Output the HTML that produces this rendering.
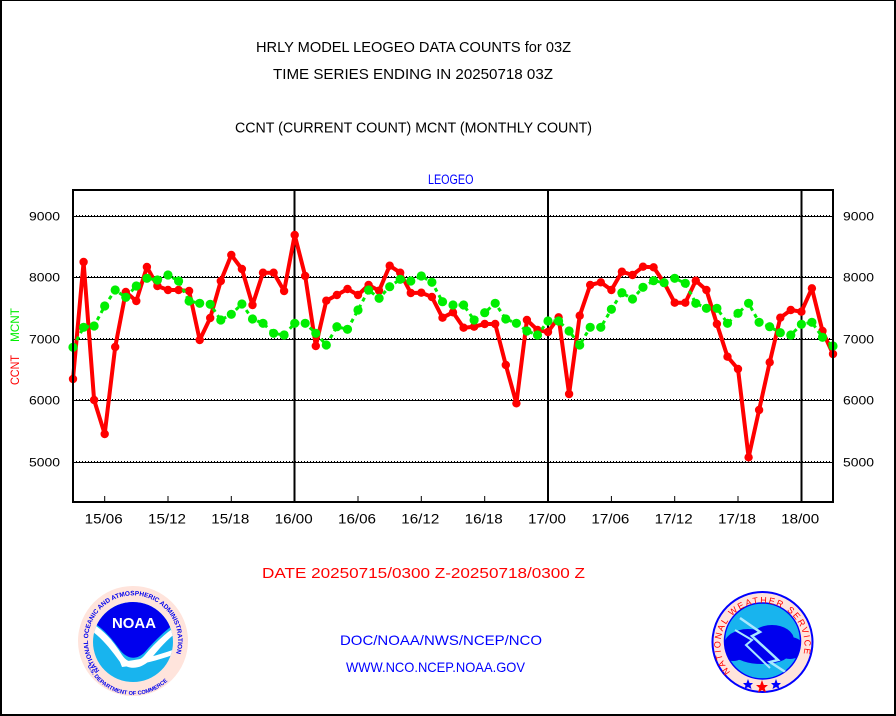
<!DOCTYPE html>
<html><head><meta charset="utf-8"><style>
html,body{margin:0;padding:0;background:#fff;}
svg{display:block;font-family:"Liberation Sans",sans-serif;}
</style></head><body>
<svg width="896" height="716" viewBox="0 0 896 716" xmlns="http://www.w3.org/2000/svg">
<defs>
<marker id="mr" markerUnits="userSpaceOnUse" markerWidth="10" markerHeight="10" refX="5" refY="5"><circle cx="5" cy="5" r="4.2" fill="#ff0000"/></marker>
<marker id="mg" markerUnits="userSpaceOnUse" markerWidth="11" markerHeight="11" refX="5.5" refY="5.5"><circle cx="5.5" cy="5.5" r="4.6" fill="#00ee00"/></marker>
<clipPath id="noaaIn"><circle cx="133" cy="642" r="40"/></clipPath>
<clipPath id="nwsIn"><circle cx="762.5" cy="641" r="38"/></clipPath>
<path id="noaaTop" d="M 101 672 A 45 45 0 1 1 165 672"/>
<path id="noaaBot" d="M 86 662 A 50 50 0 0 0 180 662"/>
<path id="nwsTop" d="M 731 673 A 42 42 0 1 1 794 673"/>
</defs>
<rect x="0" y="0" width="896" height="716" fill="#fff"/>
<rect x="0" y="0" width="2" height="716" fill="#000"/>
<rect x="0" y="0" width="896" height="1" fill="#000"/>
<rect x="894" y="0" width="2" height="716" fill="#000"/>
<rect x="0" y="714" width="896" height="2" fill="#000"/>

<text x="256" y="52" font-size="15" textLength="315" lengthAdjust="spacingAndGlyphs" fill="#000">HRLY MODEL LEOGEO DATA COUNTS for 03Z</text>
<text x="273" y="79" font-size="15" textLength="280" lengthAdjust="spacingAndGlyphs" fill="#000">TIME SERIES ENDING IN 20250718 03Z</text>
<text x="235" y="132.5" font-size="15" textLength="357" lengthAdjust="spacingAndGlyphs" fill="#000">CCNT (CURRENT COUNT) MCNT (MONTHLY COUNT)</text>
<text x="428" y="184" font-size="13.5" textLength="45.5" lengthAdjust="spacingAndGlyphs" fill="#0000ff">LEOGEO</text>

<g stroke="#000" stroke-width="1">
<line x1="73" x2="833" y1="216.5" y2="216.5"/>
<line x1="73" x2="833" y1="277.5" y2="277.5"/>
<line x1="73" x2="833" y1="339.5" y2="339.5"/>
<line x1="73" x2="833" y1="400.5" y2="400.5"/>
<line x1="73" x2="833" y1="462.5" y2="462.5"/>
</g>
<g stroke="#000" stroke-width="1" stroke-dasharray="1 2">
<line x1="73" x2="833" y1="215.5" y2="215.5"/>
<line x1="73" x2="833" y1="276.5" y2="276.5"/>
<line x1="73" x2="833" y1="338.5" y2="338.5"/>
<line x1="73" x2="833" y1="399.5" y2="399.5"/>
<line x1="73" x2="833" y1="461.5" y2="461.5"/>
</g>

<g stroke="#000" stroke-width="2">
<line x1="294.5" x2="294.5" y1="190" y2="502"/>
<line x1="548" x2="548" y1="190" y2="502"/>
<line x1="801.5" x2="801.5" y1="190" y2="502"/>
</g>
<g stroke="#000" stroke-width="1">
<line x1="104.7" x2="104.7" y1="496" y2="502"/>
<line x1="168" x2="168" y1="496" y2="502"/>
<line x1="231.3" x2="231.3" y1="496" y2="502"/>
<line x1="358" x2="358" y1="496" y2="502"/>
<line x1="421.3" x2="421.3" y1="496" y2="502"/>
<line x1="484.7" x2="484.7" y1="496" y2="502"/>
<line x1="611.4" x2="611.4" y1="496" y2="502"/>
<line x1="674.7" x2="674.7" y1="496" y2="502"/>
<line x1="738" x2="738" y1="496" y2="502"/>
</g>

<polyline fill="none" stroke="#ff0000" stroke-width="4" stroke-linejoin="round" marker-start="url(#mr)" marker-mid="url(#mr)" marker-end="url(#mr)" points="73.0,379 83.6,262 94.1,400 104.7,434 115.2,347 125.8,292 136.3,301 146.9,267 157.4,286 168.0,290 178.6,290 189.1,291 199.7,340 210.2,318 220.8,281 231.3,255 241.9,269 252.5,305 263.0,272.7 273.6,272.7 284.1,291 294.7,235 305.2,276 315.8,346 326.3,300.7 336.9,295 347.5,289 358.0,295 368.6,285 379.1,290.7 389.7,265.7 400.2,272.7 410.8,293 421.3,292.7 431.9,297 442.5,317.7 453.0,312.3 463.6,327.7 474.1,326.7 484.7,324 495.2,324 505.8,365 516.4,403.3 526.9,320 537.5,330 548.0,332 558.6,317.3 569.1,394 579.7,315.7 590.2,285 600.8,282.3 611.4,290 621.9,271.7 632.5,275 643.0,266.7 653.6,267.3 664.1,282.7 674.7,302.7 685.3,302.7 695.8,280.7 706.4,290 716.9,324 727.5,356.7 738.0,369 748.6,457.3 759.1,410 769.7,362.3 780.3,317.7 790.8,310 801.4,311.7 811.9,288.3 822.5,331 833.0,354"/>
<polyline fill="none" stroke="#00ee00" stroke-width="3" stroke-dasharray="4 4" marker-start="url(#mg)" marker-mid="url(#mg)" marker-end="url(#mg)" points="73.0,347.3 83.6,327.3 94.1,326 104.7,306 115.2,290 125.8,297.3 136.3,286 146.9,278.3 157.4,280 168.0,275 178.6,281 189.1,301 199.7,303.3 210.2,304.3 220.8,320 231.3,314.3 241.9,304 252.5,319 263.0,323.3 273.6,333.3 284.1,335 294.7,323.3 305.2,323.3 315.8,333.3 326.3,345 336.9,326.7 347.5,329.3 358.0,310 368.6,290 379.1,298.3 389.7,286.7 400.2,279.3 410.8,281 421.3,276 431.9,282.3 442.5,301.7 453.0,305 463.6,305 474.1,320 484.7,312.7 495.2,303.3 505.8,319 516.4,323.3 526.9,331 537.5,335 548.0,321 558.6,321 569.1,331 579.7,345 590.2,327.3 600.8,327.3 611.4,309.3 621.9,292.7 632.5,299 643.0,287.3 653.6,280.7 664.1,282.7 674.7,278.3 685.3,283.3 695.8,303.3 706.4,308.3 716.9,308.3 727.5,323.3 738.0,313.3 748.6,303.3 759.1,322.3 769.7,326.7 780.3,332.7 790.8,335 801.4,324.3 811.9,322.3 822.5,337.3 833.0,346"/>

<rect x="73" y="190" width="760" height="312" fill="none" stroke="#000" stroke-width="2"/>

<g font-size="12" fill="#000">
<text x="29" y="220.7" textLength="31" lengthAdjust="spacingAndGlyphs">9000</text>
<text x="29" y="281.7" textLength="31" lengthAdjust="spacingAndGlyphs">8000</text>
<text x="29" y="343.7" textLength="31" lengthAdjust="spacingAndGlyphs">7000</text>
<text x="29" y="404.7" textLength="31" lengthAdjust="spacingAndGlyphs">6000</text>
<text x="29" y="466.7" textLength="31" lengthAdjust="spacingAndGlyphs">5000</text>
<text x="843" y="220.7" textLength="31" lengthAdjust="spacingAndGlyphs">9000</text>
<text x="843" y="281.7" textLength="31" lengthAdjust="spacingAndGlyphs">8000</text>
<text x="843" y="343.7" textLength="31" lengthAdjust="spacingAndGlyphs">7000</text>
<text x="843" y="404.7" textLength="31" lengthAdjust="spacingAndGlyphs">6000</text>
<text x="843" y="466.7" textLength="31" lengthAdjust="spacingAndGlyphs">5000</text>
</g>
<text transform="translate(19,385) rotate(-90)" font-size="12" fill="#ff0000" textLength="30" lengthAdjust="spacingAndGlyphs">CCNT</text>
<text transform="translate(19,342) rotate(-90)" font-size="12" fill="#00ee00" textLength="34" lengthAdjust="spacingAndGlyphs">MCNT</text>

<g font-size="14" fill="#000" text-anchor="middle">
<text x="103.7" y="523.3" textLength="38" lengthAdjust="spacingAndGlyphs">15/06</text>
<text x="167" y="523.3" textLength="38" lengthAdjust="spacingAndGlyphs">15/12</text>
<text x="230.3" y="523.3" textLength="38" lengthAdjust="spacingAndGlyphs">15/18</text>
<text x="293.7" y="523.3" textLength="38" lengthAdjust="spacingAndGlyphs">16/00</text>
<text x="357" y="523.3" textLength="38" lengthAdjust="spacingAndGlyphs">16/06</text>
<text x="420.3" y="523.3" textLength="38" lengthAdjust="spacingAndGlyphs">16/12</text>
<text x="483.7" y="523.3" textLength="38" lengthAdjust="spacingAndGlyphs">16/18</text>
<text x="547" y="523.3" textLength="38" lengthAdjust="spacingAndGlyphs">17/00</text>
<text x="610.4" y="523.3" textLength="38" lengthAdjust="spacingAndGlyphs">17/06</text>
<text x="673.7" y="523.3" textLength="38" lengthAdjust="spacingAndGlyphs">17/12</text>
<text x="737" y="523.3" textLength="38" lengthAdjust="spacingAndGlyphs">17/18</text>
<text x="800.2" y="523.3" textLength="38" lengthAdjust="spacingAndGlyphs">18/00</text>
</g>

<text x="262" y="578" font-size="14.5" fill="#ff0000" textLength="323" lengthAdjust="spacingAndGlyphs">DATE 20250715/0300 Z-20250718/0300 Z</text>
<text x="340" y="645" font-size="14" fill="#0000ff" textLength="202" lengthAdjust="spacingAndGlyphs">DOC/NOAA/NWS/NCEP/NCO</text>
<text x="346" y="672" font-size="14" fill="#0000ff" textLength="179" lengthAdjust="spacingAndGlyphs">WWW.NCO.NCEP.NOAA.GOV</text>

<circle cx="133" cy="641" r="55" fill="#ffe4dc"/>
<g clip-path="url(#noaaIn)">
<rect x="90" y="598" width="90" height="90" fill="#18b4ee"/>
<path d="M88,598 H180 V620 C168,628 155,640 145,652 C137,660 128,660 120,650 C110,636 100,625 88,620 Z" fill="#0000ee"/>
<path d="M90,622 C104,630 114,642 122,655 C128,664 136,664 144,656 C154,644 166,632 180,624 L180,630 C168,638 158,650 150,660 C140,670 128,670 120,662 C110,648 100,636 90,630 Z" fill="#fff"/>
<path d="M120,662 C140,660 160,655 178,648 L178,653 C160,660 140,665 122,667 Z" fill="#fff"/>
</g>
<text x="134" y="628" font-size="15" font-weight="bold" fill="#fff" text-anchor="middle" textLength="44" lengthAdjust="spacingAndGlyphs">NOAA</text>
<text font-size="6.5" font-weight="bold" fill="#0000ee"><textPath href="#noaaTop" startOffset="2">NATIONAL OCEANIC AND ATMOSPHERIC ADMINISTRATION</textPath></text>
<text font-size="5.6" font-weight="bold" fill="#0000ee"><textPath href="#noaaBot" startOffset="4">U.S. DEPARTMENT OF COMMERCE</textPath></text>

<circle cx="762.5" cy="642" r="50" fill="#ffe4dc" stroke="#0000ff" stroke-width="2"/>
<circle cx="762.5" cy="641" r="38" fill="#18b4ee" stroke="#0000ff" stroke-width="1.5"/>
<g clip-path="url(#nwsIn)">
<path d="M724,625 A40 40 0 0 1 801 625" fill="none" stroke="#0000ff" stroke-width="1"/>
<ellipse cx="748" cy="645" rx="24" ry="16" fill="#0000ee"/>
<ellipse cx="772" cy="640" rx="22" ry="15" fill="#0000ee"/>
<ellipse cx="790" cy="648" rx="14" ry="11" fill="#0000ee"/>
<ellipse cx="733" cy="652" rx="12" ry="9" fill="#0000ee"/>
<ellipse cx="762" cy="655" rx="26" ry="9" fill="#0000ee"/>
<polyline points="740,618 760,632 752,636 778,660 770,662 790,675" fill="none" stroke="#a8e8ff" stroke-width="2.5"/>
<polyline points="735,630 752,640 746,645 770,668" fill="none" stroke="#a8e8ff" stroke-width="2"/>
</g>
<text font-size="9" fill="#ff0000" letter-spacing="1.6"><textPath href="#nwsTop" startOffset="1">NATIONAL WEATHER SERVICE</textPath></text>
<polygon points="748,679 749.5,683 753,683 750.5,685.5 751.5,689 748,687 744.5,689 745.5,685.5 743,683 746.5,683" fill="#0000ff"/>
<polygon points="762,680 763.8,685 768,685 764.6,688 766,692.5 762,690 758,692.5 759.4,688 756,685 760.2,685" fill="#ff0000"/>
<polygon points="776,679 777.5,683 781,683 778.5,685.5 779.5,689 776,687 772.5,689 773.5,685.5 771,683 774.5,683" fill="#0000ff"/>
</svg>
</body></html>
